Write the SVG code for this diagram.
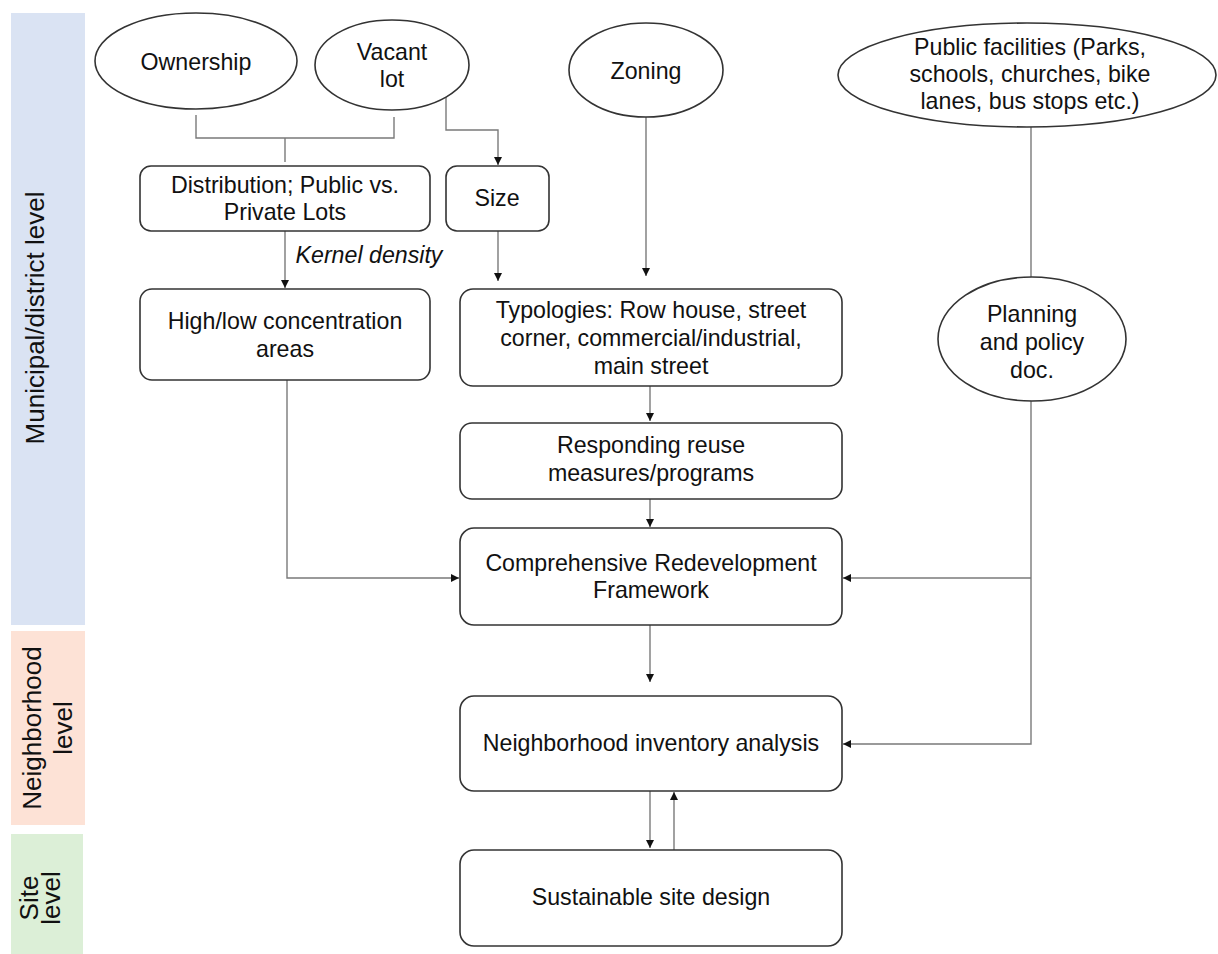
<svg xmlns="http://www.w3.org/2000/svg" width="1218" height="954" viewBox="0 0 1218 954">
<style>
text{font-family:"Liberation Sans",Arial,sans-serif;font-size:23.2px;fill:#111;text-anchor:middle}
.side{font-size:26px}
.node rect,.node ellipse{fill:#fff;stroke:#333;stroke-width:1.6}
.c{fill:none;stroke:#7a7a7a;stroke-width:1.4}
.lbl{font-style:italic}
</style>
<defs>
<marker id="ah" viewBox="0 0 10 10" refX="10" refY="5" markerWidth="8" markerHeight="8" markerUnits="userSpaceOnUse" orient="auto">
<path d="M0,0 L10,5 L0,10 z" fill="#111"/>
</marker>
</defs>
<g id="bands">
<rect x="11" y="13" width="74" height="612" fill="#dae3f3"/>
<rect x="11" y="631" width="74" height="194" fill="#fde2d6"/>
<rect x="11" y="834" width="72" height="120" fill="#dcefd7"/>
<text class="side" transform="translate(44,318) rotate(-90)">Municipal/district level</text>
<text class="side" transform="translate(41,728) rotate(-90)">Neighborhood</text>
<text class="side" transform="translate(72,728) rotate(-90)">level</text>
<text class="side" transform="translate(38,898) rotate(-90)">Site</text>
<text class="side" transform="translate(60,898) rotate(-90)">level</text>
</g>
<g id="connectors">
<path class="c" d="M196,115 V138 H394 V117"/>
<path class="c" d="M285,138 V162"/>
<path class="c" d="M446,97 V130 H498 V165" marker-end="url(#ah)"/>
<path class="c" d="M285,231 V288" marker-end="url(#ah)"/>
<text class="lbl" x="369" y="263">Kernel density</text>
<path class="c" d="M498,231 V281" marker-end="url(#ah)"/>
<path class="c" d="M646,117 V276" marker-end="url(#ah)"/>
<path class="c" d="M1031,127 V277"/>
<path class="c" d="M650,386 V421" marker-end="url(#ah)"/>
<path class="c" d="M650,499 V527" marker-end="url(#ah)"/>
<path class="c" d="M287,380 V578 H459" marker-end="url(#ah)"/>
<path class="c" d="M1031,400 V744 H843" marker-end="url(#ah)"/>
<path class="c" d="M1031,578 H843" marker-end="url(#ah)"/>
<path class="c" d="M650,625 V682" marker-end="url(#ah)"/>
<path class="c" d="M650,791 V848" marker-end="url(#ah)"/>
<path class="c" d="M674,850 V792" marker-end="url(#ah)"/>
</g>
<g id="ownership" class="node">
<ellipse cx="196" cy="61" rx="101" ry="48"/>
<text x="196" y="70">Ownership</text>
</g>
<g id="vacant-lot" class="node">
<ellipse cx="392" cy="65" rx="77" ry="45"/>
<text x="392" y="60">Vacant</text>
<text x="392" y="87">lot</text>
</g>
<g id="zoning" class="node">
<ellipse cx="646" cy="70" rx="77" ry="47"/>
<text x="646" y="79">Zoning</text>
</g>
<g id="public-facilities" class="node">
<ellipse cx="1027" cy="75" rx="189" ry="52"/>
<text x="1030" y="55">Public facilities (Parks,</text>
<text x="1030" y="82">schools, churches, bike</text>
<text x="1030" y="109">lanes, bus stops etc.)</text>
</g>
<g id="distribution" class="node">
<rect x="140" y="166" width="290" height="65" rx="11"/>
<text x="285" y="193">Distribution; Public vs.</text>
<text x="285" y="220">Private Lots</text>
</g>
<g id="size" class="node">
<rect x="446" y="166" width="103" height="65" rx="11"/>
<text x="497" y="206">Size</text>
</g>
<g id="high-low" class="node">
<rect x="140" y="289" width="290" height="91" rx="12"/>
<text x="285" y="329">High/low concentration</text>
<text x="285" y="357">areas</text>
</g>
<g id="typologies" class="node">
<rect x="460" y="289" width="382" height="97" rx="13"/>
<text x="651" y="318">Typologies: Row house, street</text>
<text x="651" y="346">corner, commercial/industrial,</text>
<text x="651" y="374">main street</text>
</g>
<g id="planning" class="node">
<ellipse cx="1032" cy="339" rx="94" ry="62"/>
<text x="1032" y="322">Planning</text>
<text x="1032" y="350">and policy</text>
<text x="1032" y="378">doc.</text>
</g>
<g id="responding" class="node">
<rect x="460" y="423" width="382" height="76" rx="12"/>
<text x="651" y="453">Responding reuse</text>
<text x="651" y="481">measures/programs</text>
</g>
<g id="comprehensive" class="node">
<rect x="460" y="528" width="382" height="97" rx="14"/>
<text x="651" y="571">Comprehensive Redevelopment</text>
<text x="651" y="598">Framework</text>
</g>
<g id="neighborhood" class="node">
<rect x="460" y="696" width="382" height="95" rx="14"/>
<text x="651" y="751">Neighborhood inventory analysis</text>
</g>
<g id="sustainable" class="node">
<rect x="460" y="850" width="382" height="96" rx="14"/>
<text x="651" y="905">Sustainable site design</text>
</g>
</svg>
